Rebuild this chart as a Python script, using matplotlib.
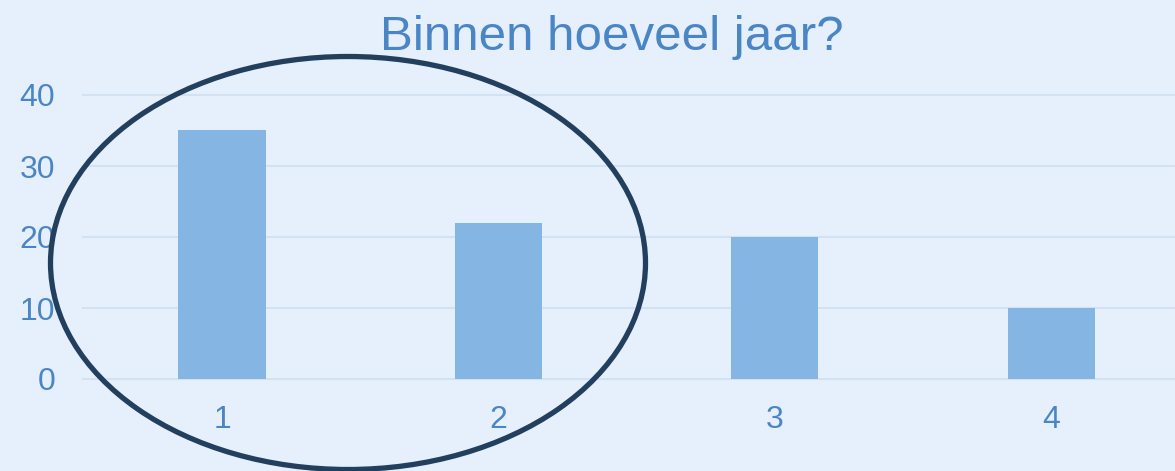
import matplotlib.pyplot as plt
from matplotlib.patches import Ellipse

# data
categories = ['1', '2', '3', '4']
values = [35, 22, 20, 10]
yticks = [0, 10, 20, 30, 40]

bg = '#E6F0FC'
bar_color = '#85B5E3'
text_color = '#4A86C5'
grid_color = '#D3E2F3'

plt.rcParams['font.family'] = ['Liberation Sans', 'DejaVu Sans']

fig = plt.figure(figsize=(11.75, 4.71), dpi=100, facecolor=bg)
ax = fig.add_axes([83 / 1175, (471 - 379) / 471, (1175 - 83) / 1175, (379 - 95) / 471])
ax.set_facecolor(bg)

x = list(range(1, len(categories) + 1))
ax.bar(x, values, width=0.315, color=bar_color, zorder=3)

ax.set_xlim(0.497, 4.448)
ax.set_ylim(0, 40)
ax.set_xticks(x)
ax.set_xticklabels(categories)
ax.set_yticks(yticks)

for s in ax.spines.values():
    s.set_visible(False)
ax.tick_params(axis='both', length=0, labelsize=23, labelcolor=text_color)
ax.tick_params(axis='y', pad=20)
ax.tick_params(axis='x', pad=19)
for yv in yticks:
    ax.axhline(yv, color=grid_color, lw=1.5, zorder=1, clip_on=False)

fig.text(612 / 1175, 1 - 37 / 471, 'Binnen hoeveel jaar?', ha='center', va='center',
         fontsize=35.5, color=text_color)

# circle drawn around the first two bars
ell = Ellipse((348 / 1175, (471 - 263) / 471), 595 / 1175, 413 / 471,
              transform=fig.transFigure, fill=False, edgecolor='#223F5E', lw=3.8, zorder=10)
fig.patches.append(ell)

fig.savefig('out.png', dpi=100, facecolor=bg)
